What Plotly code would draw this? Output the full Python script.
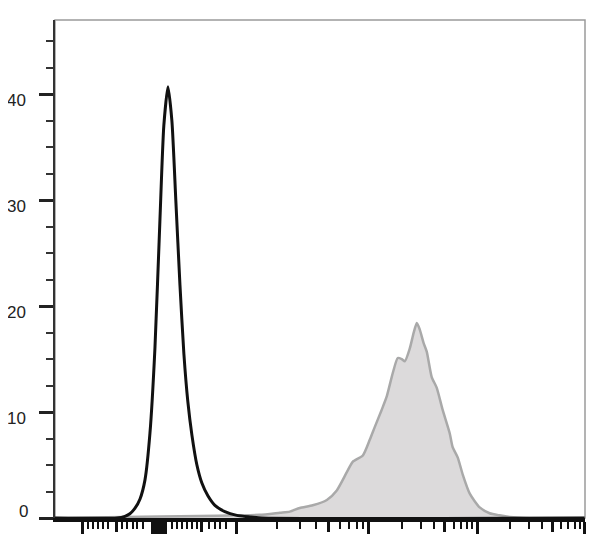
import plotly.graph_objects as go

# ---- data (x in display channels 0-256, y = events per channel) ----
ctrl_x = [0, 30.0, 33.8, 36.2, 38.6, 41.1, 43.5, 45.9, 48.3, 50.7, 52.6, 54.6, 56.5, 58.4, 60.4,
          62.3, 64.2, 66.2, 68.6, 71.0, 73.9, 77.3, 82.1, 87.9, 94.2, 100, 256]
ctrl_y = [0, 0.0, 0.15, 0.4, 0.9, 1.8, 3.6, 8.0, 16.0, 28.0, 37.0, 40.7, 37.5, 30.0, 22.0,
          15.5, 11.0, 7.8, 5.0, 3.3, 2.1, 1.2, 0.6, 0.25, 0.1, 0.0, 0]

stain_x = [0, 33.8, 50.7, 70.0, 87.9, 99.0, 108.7, 113.5, 118.3, 124.6, 131.4, 136.2, 141.0,
           143.9, 148.8, 152.2, 154.6, 157.9, 160.4, 163.3, 165.7, 167.6, 169.1, 171.5,
           173.4, 174.9, 176.3, 178.2, 179.7, 182.1, 184.5, 187.4, 190.8, 192.2, 194.7,
           197.1, 200.5, 205.3, 210.1, 214.9, 219.8, 229.4, 256]
stain_y = [0, 0.1, 0.15, 0.2, 0.25, 0.3, 0.5, 0.6, 0.95, 1.2, 1.7, 2.6, 4.3,
           5.3, 5.9, 7.4, 8.6, 10.2, 11.5, 13.7, 15.1, 15.0, 14.8, 16.0,
           17.5, 18.4, 17.8, 16.5, 15.7, 13.3, 12.3, 10.2, 8.0, 6.7, 5.7,
           4.1, 2.3, 1.0, 0.45, 0.25, 0.1, 0.0, 0]

# x-axis tick positions (logicle-style display channels)
x_major = [13.5, 46.9, 47.8, 48.8, 49.8, 50.7, 51.7, 52.6, 53.6, 87.9, 151.7, 204.3, 256.0]
x_medium = [29.9, 71.0, 132.3, 188.4, 240.5]
x_minor = [15.9, 18.4, 20.8, 23.2, 25.6, 32.4, 34.8, 37.7, 39.6, 42.5,
           56.5, 58.9, 61.3, 63.8, 66.2, 68.6, 74.4, 77.3, 79.7, 82.6,
           107.2, 118.3, 126.1, 137.7, 142.0, 145.9, 148.8,
           167.6, 176.8, 183.1, 192.7, 196.1, 199.0, 201.4,
           219.8, 229.0, 235.2, 244.4, 247.8, 251.2, 253.6]

y_ticks = [0, 10, 20, 30, 40]
y_labels = ["", "10", "20", "30", "40"]
y_minor = [2.5, 5, 7.5, 12.5, 15, 17.5, 22.5, 25, 27.5, 32.5, 35, 37.5, 42.5, 45]

X_RANGE = [0, 256.2]
Y_RANGE = [0, 47]

fig = go.Figure()
fig.add_trace(go.Scatter(
    x=stain_x, y=stain_y, mode="lines",
    line=dict(color="#a9a9a9", width=2.5, shape="spline", smoothing=0.6),
    fill="tozeroy", fillcolor="#dcdadb", hoverinfo="skip", showlegend=False))
fig.add_trace(go.Scatter(
    x=ctrl_x, y=ctrl_y, mode="lines",
    line=dict(color="#111111", width=3, shape="spline", smoothing=0.6),
    hoverinfo="skip", showlegend=False))
# invisible trace on the overlaid axis carrying the medium ticks
fig.add_trace(go.Scatter(x=[X_RANGE[0]], y=[0], xaxis="x2", mode="markers",
                         marker=dict(opacity=0), hoverinfo="skip", showlegend=False))

fig.update_layout(
    width=600, height=537,
    margin=dict(l=47, r=23, t=12, b=27, autoexpand=False),
    paper_bgcolor="white", plot_bgcolor="white",
    font=dict(family="Liberation Sans, Arial, sans-serif", size=17, color="#222"),
    xaxis=dict(
        range=X_RANGE, showgrid=False, zeroline=False, automargin=False,
        showline=True, linecolor="#111", linewidth=4,
        ticks="outside", tickmode="array", tickvals=x_major,
        ticklen=12, tickwidth=3, tickcolor="#111", showticklabels=False,
        minor=dict(tickmode="array", tickvals=x_minor, ticks="outside",
                   ticklen=7, tickwidth=2, tickcolor="#111", showgrid=False),
    ),
    xaxis2=dict(
        range=X_RANGE, overlaying="x", anchor="y", side="bottom", automargin=False,
        showgrid=False, zeroline=False, showline=False,
        ticks="outside", tickmode="array", tickvals=x_medium,
        ticklen=13, tickwidth=2.5, tickcolor="#111", showticklabels=False,
    ),
    yaxis=dict(
        range=Y_RANGE, showgrid=False, zeroline=False, automargin=False,
        showline=True, linecolor="#333", linewidth=1.5,
        ticks="outside", tickmode="array", tickvals=y_ticks, ticktext=y_labels,
        ticklen=14, tickwidth=3, tickcolor="#222",
        ticklabelstandoff=10, ticklabelshift=6,
        minor=dict(tickmode="array", tickvals=y_minor, ticks="outside",
                   ticklen=7, tickwidth=2, tickcolor="#333", showgrid=False),
    ),
    shapes=[dict(type="rect", xref="paper", yref="paper", x0=0, x1=1, y0=0, y1=1,
                 line=dict(color="#9a9a9a", width=1.5), layer="below")],
    annotations=[dict(text="0", x=0, y=y_ticks[0], xref="paper", yref="y",
                      xanchor="right", yanchor="middle", xshift=-25, yshift=7,
                      showarrow=False, font=dict(size=17, color="#222"))],
)

fig.write_html("out.html")
